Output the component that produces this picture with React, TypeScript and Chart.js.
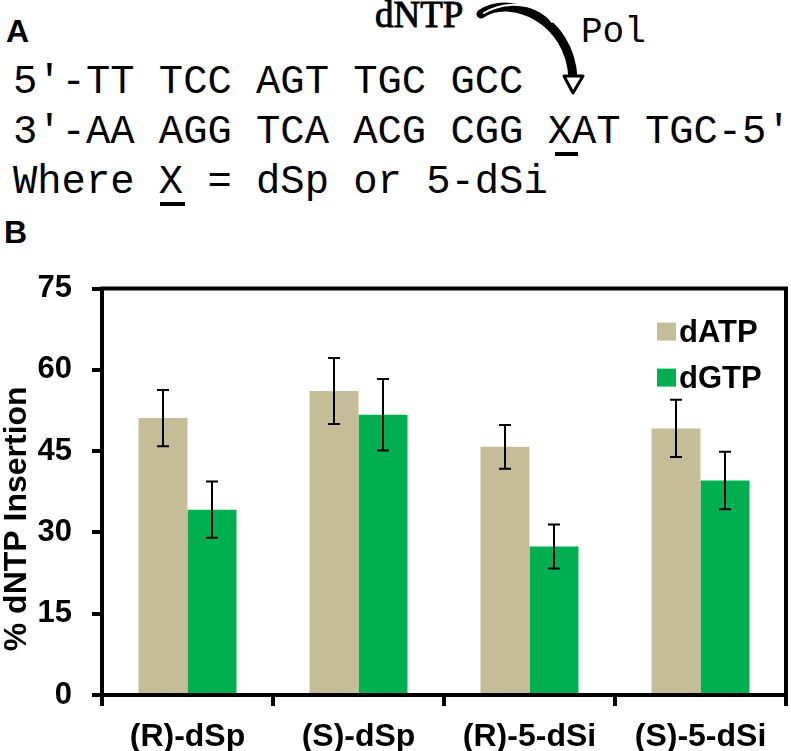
import React, { useEffect, useRef } from "react";
import { Chart, registerables } from "chart.js";

Chart.register(...registerables);

const categories = ["(R)-dSp", "(S)-dSp", "(R)-5-dSi", "(S)-5-dSi"];
const datpValues = [51.1, 56.1, 45.8, 49.2];
const datpErrors = [5.2, 6.1, 4.05, 5.3];
const dgtpValues = [34.2, 51.7, 27.4, 39.6];
const dgtpErrors = [5.2, 6.6, 4.05, 5.3];
const seriesLabels = ["dATP", "dGTP"];
const seriesColors = ["#C4BD97", "#00B050"];
const yMin = 0;
const yMax = 75;
const yStep = 15;
const yTitle = "% dNTP Insertion";

const SANS = "'Liberation Sans', Arial, sans-serif";
const SERIF = "'Liberation Serif', 'DejaVu Serif', serif";
const MONO = "'Liberation Mono', 'DejaVu Sans Mono', monospace";

const errorBarPlugin = {
  id: "errorBars",
  afterDatasetsDraw(chart: any) {
    const ctx = chart.ctx;
    const y = chart.scales.y;
    ctx.save();
    ctx.strokeStyle = "#000";
    ctx.lineWidth = 2;
    chart.data.datasets.forEach((ds: any, i: number) => {
      const meta = chart.getDatasetMeta(i);
      meta.data.forEach((bar: any, j: number) => {
        const v = ds.data[j];
        const e = ds.errors[j];
        const x = Math.round(bar.x);
        const yt = y.getPixelForValue(v + e);
        const yb = y.getPixelForValue(v - e);
        const cw = 6;
        ctx.beginPath();
        ctx.moveTo(x, yt);
        ctx.lineTo(x, yb);
        ctx.moveTo(x - cw, yt);
        ctx.lineTo(x + cw, yt);
        ctx.moveTo(x - cw, yb);
        ctx.lineTo(x + cw, yb);
        ctx.stroke();
      });
    });
    ctx.restore();
  },
};

const framePlugin = {
  id: "frameLegendTitle",
  afterDraw(chart: any) {
    const ctx = chart.ctx;
    const a = chart.chartArea;
    ctx.save();
    ctx.strokeStyle = "#000";
    ctx.lineWidth = 4;
    ctx.beginPath();
    ctx.moveTo(a.left - 2, a.top);
    ctx.lineTo(a.right, a.top);
    ctx.lineTo(a.right, a.bottom);
    ctx.stroke();

    ctx.font = `bold 31px ${SANS}`;
    ctx.textBaseline = "alphabetic";
    ctx.textAlign = "left";
    chart.data.datasets.forEach((ds: any, i: number) => {
      const bx = a.right - 129;
      const by = a.top + 34 + i * 46;
      ctx.fillStyle = ds.backgroundColor;
      ctx.fillRect(bx, by, 19, 18);
      ctx.fillStyle = "#000";
      ctx.fillText(ds.label, bx + 22, by + 19);
    });

    ctx.save();
    ctx.translate(17, (a.top + a.bottom) / 2 + 27);
    ctx.rotate(-Math.PI / 2);
    ctx.font = `bold 32px ${SANS}`;
    ctx.textAlign = "center";
    ctx.textBaseline = "middle";
    ctx.fillStyle = "#000";
    ctx.fillText(yTitle, 0, 0);
    ctx.restore();

    ctx.restore();
  },
};

function BarChart() {
  const ref = useRef<HTMLCanvasElement>(null);
  useEffect(() => {
    if (!ref.current) return;
    const chart = new Chart(ref.current, {
      type: "bar",
      data: {
        labels: categories,
        datasets: [
          {
            label: seriesLabels[0],
            data: datpValues,
            errors: datpErrors,
            backgroundColor: seriesColors[0],
            borderWidth: 0,
            categoryPercentage: 0.573,
            barPercentage: 1,
          } as any,
          {
            label: seriesLabels[1],
            data: dgtpValues,
            errors: dgtpErrors,
            backgroundColor: seriesColors[1],
            borderWidth: 0,
            categoryPercentage: 0.573,
            barPercentage: 1,
          } as any,
        ],
      },
      options: {
        responsive: false,
        animation: false,
        layout: { padding: { top: 33, right: 5, left: 0, bottom: 0 } },
        plugins: {
          legend: { display: false },
          tooltip: { enabled: false },
        },
        scales: {
          x: {
            afterFit: (s: any) => {
              s.height = 56;
            },
            border: { display: true, color: "#000", width: 4 },
            grid: {
              offset: true,
              drawOnChartArea: false,
              drawTicks: true,
              tickLength: 11,
              tickWidth: 4,
              tickColor: "#000",
              color: "#000",
              lineWidth: 4,
            },
            ticks: {
              color: "#000",
              font: { family: SANS, size: 32, weight: "bold" },
              padding: 12,
              maxRotation: 0,
              autoSkip: false,
            },
          },
          y: {
            min: yMin,
            max: yMax,
            afterFit: (s: any) => {
              s.width = 102;
            },
            border: { display: true, color: "#000", width: 4 },
            grid: {
              drawOnChartArea: false,
              drawTicks: true,
              tickLength: 10,
              tickWidth: 4,
              tickColor: "#000",
              color: "#000",
              lineWidth: 4,
            },
            ticks: {
              stepSize: yStep,
              color: "#000",
              font: { family: SANS, size: 31, weight: "bold" },
              padding: 20,
            },
          },
        },
      } as any,
      plugins: [errorBarPlugin, framePlugin],
    });
    return () => chart.destroy();
  }, []);
  return <canvas ref={ref} width={791} height={501} style={{ display: "block" }} />;
}

function Header() {
  return (
    <svg width={791} height={250} style={{ position: "absolute", left: 0, top: 0 }}>
      <text x={6} y={42} fontFamily={SANS} fontWeight="bold" fontSize={32}>A</text>
      <text x={375} y={27} fontFamily={SERIF} fontSize={37} stroke="#000" strokeWidth={0.9}>dNTP</text>
      <text x={581} y={42} fontFamily={MONO} fontSize={36}>Pol</text>
      <text x={13} y={93} fontFamily={MONO} fontSize={40.5} xmlSpace="preserve">5′-TT TCC AGT TGC GCC</text>
      <text x={13} y={143} fontFamily={MONO} fontSize={40.5} xmlSpace="preserve">3′-AA AGG TCA ACG CGG XAT TGC-5′</text>
      <text x={13} y={193} fontFamily={MONO} fontSize={40.5} xmlSpace="preserve">Where X = dSp or 5-dSi</text>
      <rect x={555} y={152} width={23} height={4} fill="#000" />
      <rect x={160} y={202} width={25} height={4} fill="#000" />
      <text x={4} y={243} fontFamily={SANS} fontWeight="bold" fontSize={32}>B</text>
      <path d="M 481 14 C 510 -6, 570 18, 573 78" fill="none" stroke="#000" strokeWidth={9} strokeLinecap="round" />
      <path d="M 484 13 C 508 -1, 540 4, 552 22" fill="none" stroke="#fff" strokeWidth={2} strokeLinecap="round" />
      <polygon points="564,76 583,76 573,93" fill="#fff" stroke="#000" strokeWidth={3} strokeLinejoin="round" />
    </svg>
  );
}

export default function App() {
  return (
    <div style={{ position: "absolute", left: 0, top: 0, width: 791, height: 751, background: "#fff" }}>
      <Header />
      <div style={{ position: "absolute", left: 0, top: 250, width: 791, height: 501 }}>
        <BarChart />
      </div>
    </div>
  );
}
